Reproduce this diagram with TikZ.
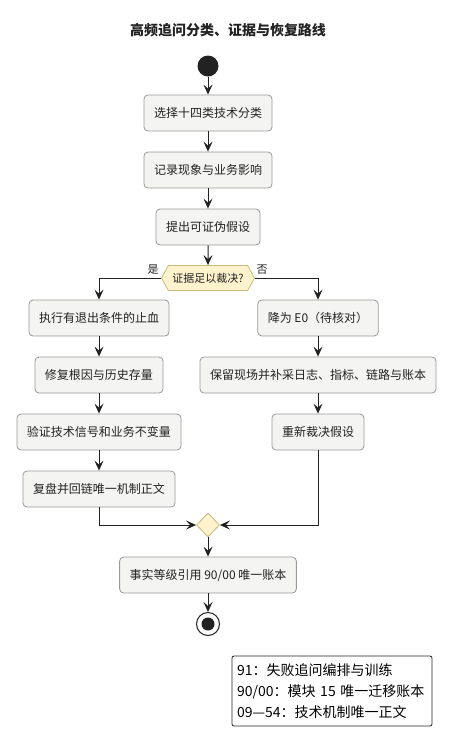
\documentclass[tikz,border=0pt]{standalone}
\usepackage{fontspec}
\setmainfont{Noto Sans CJK SC}
\usetikzlibrary{arrows.meta,shapes.geometric,shapes.symbols}

\definecolor{ink}{HTML}{222222}
\definecolor{actfill}{HTML}{F4F4F2}
\definecolor{actline}{HTML}{999999}
\definecolor{decfill}{HTML}{FEF3CD}
\definecolor{decline}{HTML}{CDB77C}

\tikzset{
  act/.style={draw=actline, fill=actfill, rounded corners=4pt, line width=0.8pt,
    minimum height=36pt, inner xsep=10pt, text=ink, font=\fontsize{12}{14}\selectfont},
  hexa/.style={shape=signal, signal to=west and east, signal pointer angle=122,
    draw=decline, fill=decfill, line width=0.8pt, minimum height=25pt,
    inner xsep=4pt, inner ysep=0pt, text=ink, font=\fontsize{11}{13}\selectfont},
  merge/.style={diamond, draw=decline, fill=decfill, line width=0.8pt,
    minimum width=23pt, minimum height=24pt, inner sep=0pt},
  tag/.style={text=ink, font=\fontsize{11}{13}\selectfont, inner sep=0pt}
}

\begin{document}
\begin{tikzpicture}[x=1pt, y=-1pt]
  \useasboundingbox (0,0) rectangle (455,748);
  \node[font=\bfseries\fontsize{14}{16}\selectfont, text=ink] (title) at (228,30) {高频追问分类、证据与恢复路线};
  \node[circle, fill=ink, minimum size=21pt, inner sep=0pt] (start) at (208,66) {};
  \path
    (208,113) node[act] (choose) {选择十四类技术分类}
    (208,170) node[act] (record) {记录现象与业务影响}
    (208,227) node[act] (hypo) {提出可证伪假设}
    (208,278) node[hexa] (enough) {证据足以裁决?}
    (99,318) node[act] (stanch) {执行有退出条件的止血}
    (99,375) node[act] (repair) {修复根因与历史存量}
    (99,432) node[act] (verify) {验证技术信号和业务不变量}
    (99,489) node[act] (review) {复盘并回链唯一机制正文}
    (318,318) node[act] (demote) {降为 E0（待核对）}
    (318,375) node[act] (keep) {保留现场并补采日志、指标、链路与账本}
    (318,432) node[act] (rejudge) {重新裁决假设}
    (208,525) node[merge] (join) {}
    (208,575) node[act] (cite) {事实等级引用 90/00 唯一账本};
  \node[circle, draw=ink, line width=1pt, minimum size=23pt, inner sep=0pt] (stop) at (208,624) {};
  \node[circle, fill=ink, minimum size=13pt, inner sep=0pt] (stopdot) at (stop) {};
  \node[tag] (yes) at (153,270) {是};
  \node[tag] (no) at (262,270) {否};
  \node[draw=ink, line width=0.8pt, fill=white, rounded corners=2pt, minimum width=200pt,
    minimum height=70pt, text width=190pt, align=left, inner sep=3pt, text=black,
    font=\fontsize{14}{21}\selectfont] (legend) at (332,691)
    {91：失败追问编排与训练\\90/00：模块 15 唯一迁移账本\\09—54：技术机制唯一正文};
  \begin{scope}[draw=ink, line width=1pt, -{Stealth[length=10pt,width=9pt,inset=4pt]}]
    \draw (start) to (choose);
    \draw (choose) to (record);
    \draw (record) to (hypo);
    \draw (hypo) to (enough);
    \draw (enough.west) -| (stanch.north);
    \draw (enough.east) -| (demote.north);
    \draw (stanch) to (repair);
    \draw (repair) to (verify);
    \draw (verify) to (review);
    \draw (demote) to (keep);
    \draw (keep) to (rejudge);
    \draw (review.south) |- (join.west);
    \draw (rejudge.south) |- (join.east);
    \draw (join) to (cite);
    \draw (cite) to (stop);
  \end{scope}
\end{tikzpicture}
\end{document}
